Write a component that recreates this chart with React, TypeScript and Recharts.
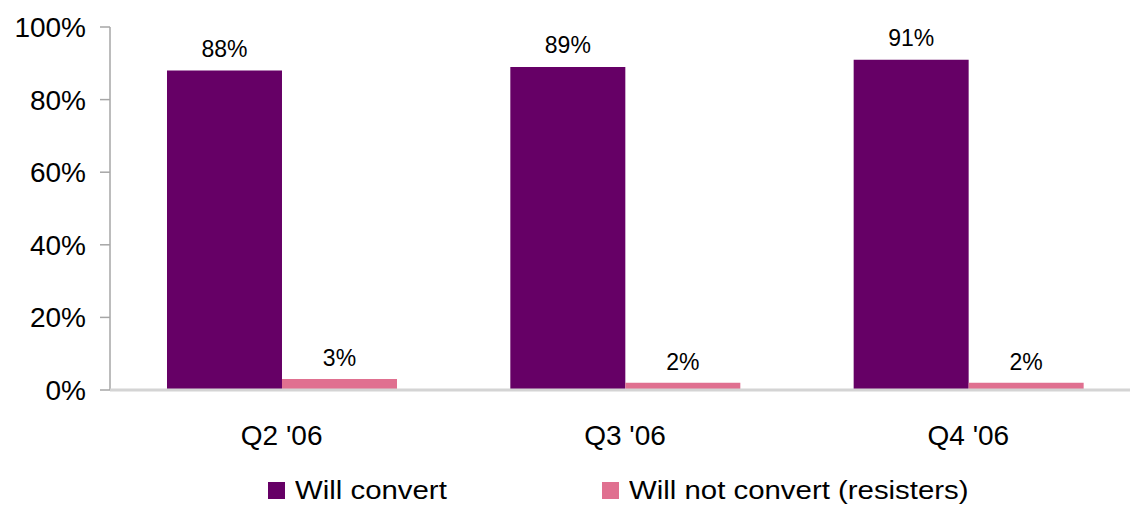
import React from "react";
import { BarChart, Bar, XAxis, YAxis, Legend, LabelList } from "recharts";

const quarters = ["Q2 '06", "Q3 '06", "Q4 '06"];
const willConvert = [88, 89, 91];
const willNotConvert = [3, 2, 2];
const yTicks = [0, 20, 40, 60, 80, 100];

const PURPLE = "#660066";
const PINK = "#E07090";
const FONT = "'Liberation Sans', Arial, sans-serif";

const data = quarters.map((q, i) => ({
  q,
  convert: willConvert[i],
  resist: willNotConvert[i],
}));

const legendItems = [
  { label: "Will convert", color: PURPLE, x: 268 },
  { label: "Will not convert (resisters)", color: PINK, x: 602 },
];

function LegendContent() {
  return (
    <div style={{ position: "relative", height: 47 }}>
      {legendItems.map((it) => (
        <div
          key={it.label}
          style={{
            position: "absolute",
            left: it.x,
            top: 15,
            display: "flex",
            alignItems: "center",
            fontFamily: FONT,
            fontSize: 26,
            lineHeight: "30px",
            color: "#000",
            whiteSpace: "nowrap",
          }}
        >
          <span style={{ width: 17, height: 17, background: it.color, marginRight: 10, display: "inline-block" }} />
          <span style={{ display: "inline-block", transform: "scaleX(1.13)", transformOrigin: "left center" }}>
            {it.label}
          </span>
        </div>
      ))}
    </div>
  );
}

export default function App() {
  return (
    <div style={{ position: "absolute", left: 0, top: 0, width: 1130, height: 507, overflow: "hidden", background: "#fff" }}>
      <BarChart
        width={1150}
        height={507}
        data={data}
        margin={{ top: 27, right: 10, bottom: 0, left: 0 }}
        barCategoryGap="16.6%"
        barGap={0}
      >
        <YAxis
          width={110}
          domain={[0, 100]}
          ticks={yTicks}
          tickFormatter={(v: number) => `${v}%`}
          axisLine={{ stroke: "#a6a6a6", strokeWidth: 1.5 }}
          tickLine={{ stroke: "#a6a6a6", strokeWidth: 1.5 }}
          tickSize={10}
          tickMargin={14}
          tick={{ fill: "#000", fontSize: 28, fontFamily: FONT }}
        />
        <XAxis
          dataKey="q"
          height={70}
          axisLine={{ stroke: "#d4d4d4", strokeWidth: 3 }}
          tickLine={false}
          tickSize={0}
          tickMargin={35}
          tick={{ fill: "#000", fontSize: 28, fontFamily: FONT }}
        />
        <Legend verticalAlign="bottom" height={47} content={() => <LegendContent />} />
        <Bar dataKey="convert" fill={PURPLE} isAnimationActive={false}>
          <LabelList
            dataKey="convert"
            position="top"
            offset={14}
            formatter={(v: number) => `${v}%`}
            style={{ fill: "#000", fontSize: 23, fontFamily: FONT }}
          />
        </Bar>
        <Bar dataKey="resist" fill={PINK} isAnimationActive={false}>
          <LabelList
            dataKey="resist"
            position="top"
            offset={13}
            formatter={(v: number) => `${v}%`}
            style={{ fill: "#000", fontSize: 23, fontFamily: FONT }}
          />
        </Bar>
      </BarChart>
    </div>
  );
}
